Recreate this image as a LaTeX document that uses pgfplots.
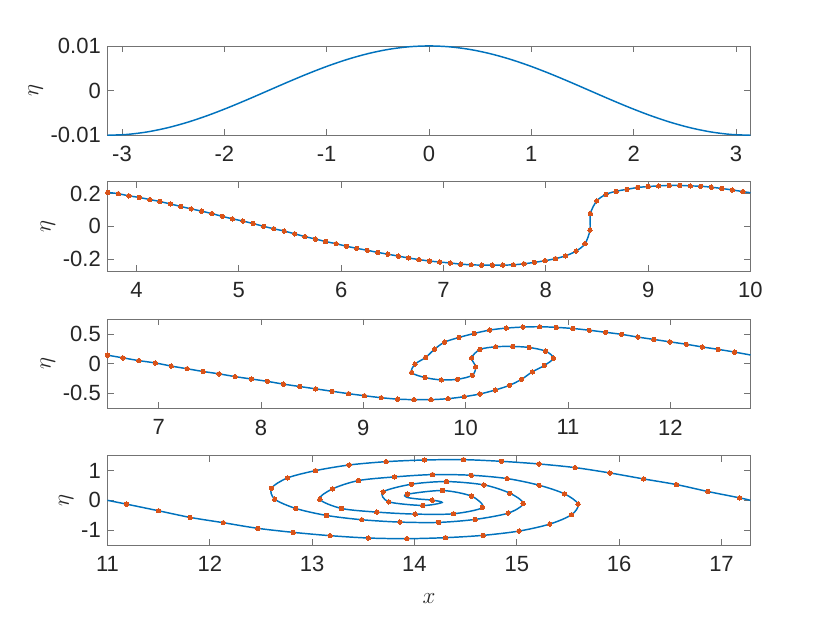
\documentclass[border=0pt]{standalone}
\usepackage{pgfplots}
\pgfplotsset{compat=1.18}
\usepackage{pgfplotstable}
\usepackage{fontspec}
\setmainfont{Liberation Sans}
\definecolor{mblue}{rgb}{0,0.447,0.741}
\definecolor{morange}{rgb}{0.85,0.325,0.098}
\definecolor{mtext}{rgb}{0.15,0.15,0.15}

\pgfplotstableread{
x y
-3.14159 -0.0100000
-2.94524 -0.0098079
-2.74889 -0.0092388
-2.55254 -0.0083147
-2.35619 -0.0070711
-2.15984 -0.0055557
-1.96350 -0.0038268
-1.76715 -0.0019509
-1.57080 0.0000000
-1.37445 0.0019509
-1.17810 0.0038268
-0.98175 0.0055557
-0.78540 0.0070711
-0.58905 0.0083147
-0.39270 0.0092388
-0.19635 0.0098079
0.00000 0.0100000
0.19635 0.0098079
0.39270 0.0092388
0.58905 0.0083147
0.78540 0.0070711
0.98175 0.0055557
1.17810 0.0038268
1.37445 0.0019509
1.57080 0.0000000
1.76715 -0.0019509
1.96350 -0.0038268
2.15984 -0.0055557
2.35619 -0.0070711
2.55254 -0.0083147
2.74889 -0.0092388
2.94524 -0.0098079
3.14159 -0.0100000
}\tA

\pgfplotstableread{
x y
3.720 0.208
3.823 0.200
3.926 0.187
4.029 0.177
4.132 0.164
4.230 0.152
4.333 0.137
4.432 0.122
4.535 0.107
4.638 0.093
4.737 0.078
4.840 0.061
4.938 0.046
5.041 0.032
5.140 0.017
5.243 0.000
5.342 -0.015
5.444 -0.029
5.547 -0.046
5.646 -0.063
5.749 -0.078
5.848 -0.093
5.951 -0.107
6.053 -0.122
6.152 -0.135
6.255 -0.147
6.358 -0.160
6.457 -0.171
6.560 -0.183
6.658 -0.194
6.761 -0.204
6.864 -0.213
6.963 -0.219
7.066 -0.225
7.169 -0.232
7.272 -0.236
7.374 -0.238
7.477 -0.238
7.580 -0.238
7.683 -0.236
7.786 -0.230
7.889 -0.221
7.992 -0.211
8.095 -0.198
8.193 -0.181
8.296 -0.152
8.383 -0.107
8.432 -0.023
8.436 0.078
8.498 0.156
8.588 0.196
8.687 0.215
8.794 0.227
8.897 0.238
9.000 0.244
9.103 0.248
9.206 0.251
9.309 0.251
9.412 0.248
9.514 0.246
9.617 0.240
9.720 0.232
9.823 0.223
9.926 0.213
}\tB
\pgfplotstableread{
x y
9.926 0.213
10.000 0.206
}\tBend

\pgfplotstableread{
x y
6.500 0.145
6.651 0.099
6.807 0.052
6.967 0.012
7.123 -0.041
7.279 -0.087
7.435 -0.134
7.591 -0.174
7.747 -0.221
7.907 -0.262
8.063 -0.302
8.219 -0.349
8.379 -0.390
8.535 -0.430
8.695 -0.471
8.856 -0.512
9.011 -0.547
9.176 -0.581
9.336 -0.605
9.495 -0.614
9.661 -0.614
9.827 -0.597
9.987 -0.563
10.140 -0.517
10.290 -0.449
10.430 -0.369
10.547 -0.266
10.651 -0.140
10.769 -0.031
10.857 0.094
10.782 0.213
10.622 0.276
10.459 0.293
10.293 0.288
10.140 0.242
10.059 0.099
10.098 -0.055
10.065 -0.198
9.922 -0.266
9.762 -0.277
9.603 -0.237
9.472 -0.152
9.505 -0.009
9.609 0.105
9.697 0.248
9.795 0.368
9.935 0.447
10.085 0.516
10.235 0.573
10.397 0.607
10.560 0.624
10.723 0.630
10.886 0.619
11.048 0.600
11.208 0.570
11.368 0.535
11.524 0.500
11.684 0.453
11.840 0.413
11.996 0.372
12.156 0.331
12.312 0.285
12.468 0.244
12.628 0.198
}\tC
\pgfplotstableread{
x y
12.628 0.198
12.783 0.148
}\tCend

\pgfplotstableread{
x y
11.000 0.000
11.186 -0.128
11.499 -0.352
11.807 -0.575
12.132 -0.754
12.470 -0.944
12.814 -1.079
13.176 -1.191
13.550 -1.270
13.925 -1.292
14.303 -1.258
14.671 -1.180
15.023 -1.035
15.322 -0.800
15.534 -0.487
15.599 -0.129
15.466 0.218
15.218 0.509
14.906 0.733
14.554 0.845
14.176 0.867
13.805 0.789
13.453 0.666
13.199 0.386
13.075 0.039
13.287 -0.274
13.632 -0.397
14.007 -0.464
14.381 -0.453
14.664 -0.240
14.557 0.140
14.274 0.330
13.932 0.207
13.922 0.106
14.020 0.050
14.173 0.006
14.270 -0.073
14.081 -0.173
13.749 -0.050
13.694 0.285
13.971 0.543
14.313 0.632
14.678 0.520
14.932 0.240
15.062 -0.106
14.915 -0.431
14.593 -0.643
14.235 -0.744
13.857 -0.733
13.485 -0.654
13.140 -0.509
12.840 -0.274
12.635 0.039
12.603 0.408
12.759 0.755
13.033 1.001
13.362 1.191
13.723 1.303
14.098 1.359
14.479 1.370
14.850 1.314
15.218 1.225
15.570 1.102
15.909 0.923
16.239 0.721
16.560 0.531
16.868 0.296
17.177 0.084
17.283 0.000
}\tDline

\pgfplotstableread{
x y
11.186 -0.128
11.499 -0.352
11.807 -0.575
12.132 -0.754
12.470 -0.944
12.814 -1.079
13.176 -1.191
13.550 -1.270
13.925 -1.292
14.303 -1.258
14.671 -1.180
15.023 -1.035
15.322 -0.800
15.534 -0.487
15.599 -0.129
15.466 0.218
15.218 0.509
14.906 0.733
14.554 0.845
14.176 0.867
13.805 0.789
13.453 0.666
13.199 0.386
13.075 0.039
13.287 -0.274
13.632 -0.397
14.007 -0.464
14.381 -0.453
14.664 -0.240
14.557 0.140
14.274 0.330
13.932 0.207
14.173 0.006
14.081 -0.173
13.749 -0.050
13.694 0.285
13.971 0.543
14.313 0.632
14.678 0.520
14.932 0.240
15.062 -0.106
14.915 -0.431
14.593 -0.643
14.235 -0.744
13.857 -0.733
13.485 -0.654
13.140 -0.509
12.840 -0.274
12.635 0.039
12.603 0.408
12.759 0.755
13.033 1.001
13.362 1.191
13.723 1.303
14.098 1.359
14.479 1.370
14.850 1.314
15.218 1.225
15.570 1.102
15.909 0.923
16.239 0.721
16.560 0.531
16.868 0.296
17.177 0.084
}\tDmark

\pgfplotsset{
  panel/.style={
    scale only axis, width=482.25pt, height=67pt, anchor=south west,
    clip=false,
    scaled x ticks=false, scaled y ticks=false,
    axis line style={draw=black!55, line width=0.5pt},
    tick align=inside,
    xtick pos=both, ytick pos=both,
    xticklabel pos=lower, yticklabel pos=left,
    major tick length=4.8pt,
    every tick/.style={black!55, line width=0.5pt},
    tick label style={font=\fontsize{16.5}{19}\selectfont, text=mtext},
    xticklabel style={yshift=-5pt},
    yticklabel style={xshift=-1.5pt},
    label style={font=\fontsize{17.28}{20}\selectfont, text=mtext},
    ylabel={$\eta$},
    ylabel style={yshift=-1pt},
  },
  lineplot/.style={mblue, line width=1.1pt, no markers, smooth},
  markplot/.style={morange, only marks, mark=*, mark size=1.65pt, mark options={draw=morange, fill=morange, line width=0pt}},
}

\begin{document}
\begin{tikzpicture}
\path[use as bounding box] (0,0) rectangle (622.5pt,467.25pt);

\begin{axis}[panel, at={(80.6pt,365.8pt)},
  xmin=-3.14159, xmax=3.14159, ymin=-0.01, ymax=0.01,
  xtick={-3,-2,-1,0,1,2,3}, xticklabels={-3,-2,-1,0,1,2,3},
  ytick={-0.01,0,0.01}, yticklabels={-0.01,0,0.01}]
\addplot[lineplot] table[x=x,y=y] {\tA};
\end{axis}

\begin{axis}[panel, at={(80.6pt,264pt)},
  xmin=3.71681, xmax=10, ymin=-0.274, ymax=0.274,
  xtick={4,5,6,7,8,9,10}, xticklabels={4,5,6,7,8,9,10},
  ytick={-0.2,0,0.2}, yticklabels={-0.2,0,0.2}]
\addplot[lineplot] table[x=x,y=y] {\tB};
\addplot[lineplot] table[x=x,y=y] {\tBend};
\addplot[markplot] table[x=x,y=y] {\tB};
\end{axis}

\begin{axis}[panel, at={(80.6pt,161pt)},
  xmin=6.5, xmax=12.78319, ymin=-0.762, ymax=0.762,
  xtick={7,8,9,10,11,12}, xticklabels={7,8,9,10,11,12},
  ytick={-0.5,0,0.5}, yticklabels={-0.5,0,0.5}]
\addplot[lineplot] table[x=x,y=y] {\tC};
\addplot[lineplot] table[x=x,y=y] {\tCend};
\addplot[markplot] table[x=x,y=y] {\tC};
\end{axis}

\begin{axis}[panel, at={(80.6pt,58.5pt)},
  xmin=11, xmax=17.28319, ymin=-1.505, ymax=1.505,
  xtick={11,12,13,14,15,16,17}, xticklabels={11,12,13,14,15,16,17},
  ytick={-1,0,1}, yticklabels={-1,0,1},
  xlabel={$x$}, xlabel style={yshift=-9pt}]
\addplot[lineplot] table[x=x,y=y] {\tDline};
\addplot[markplot] table[x=x,y=y] {\tDmark};
\end{axis}
\end{tikzpicture}
\end{document}
